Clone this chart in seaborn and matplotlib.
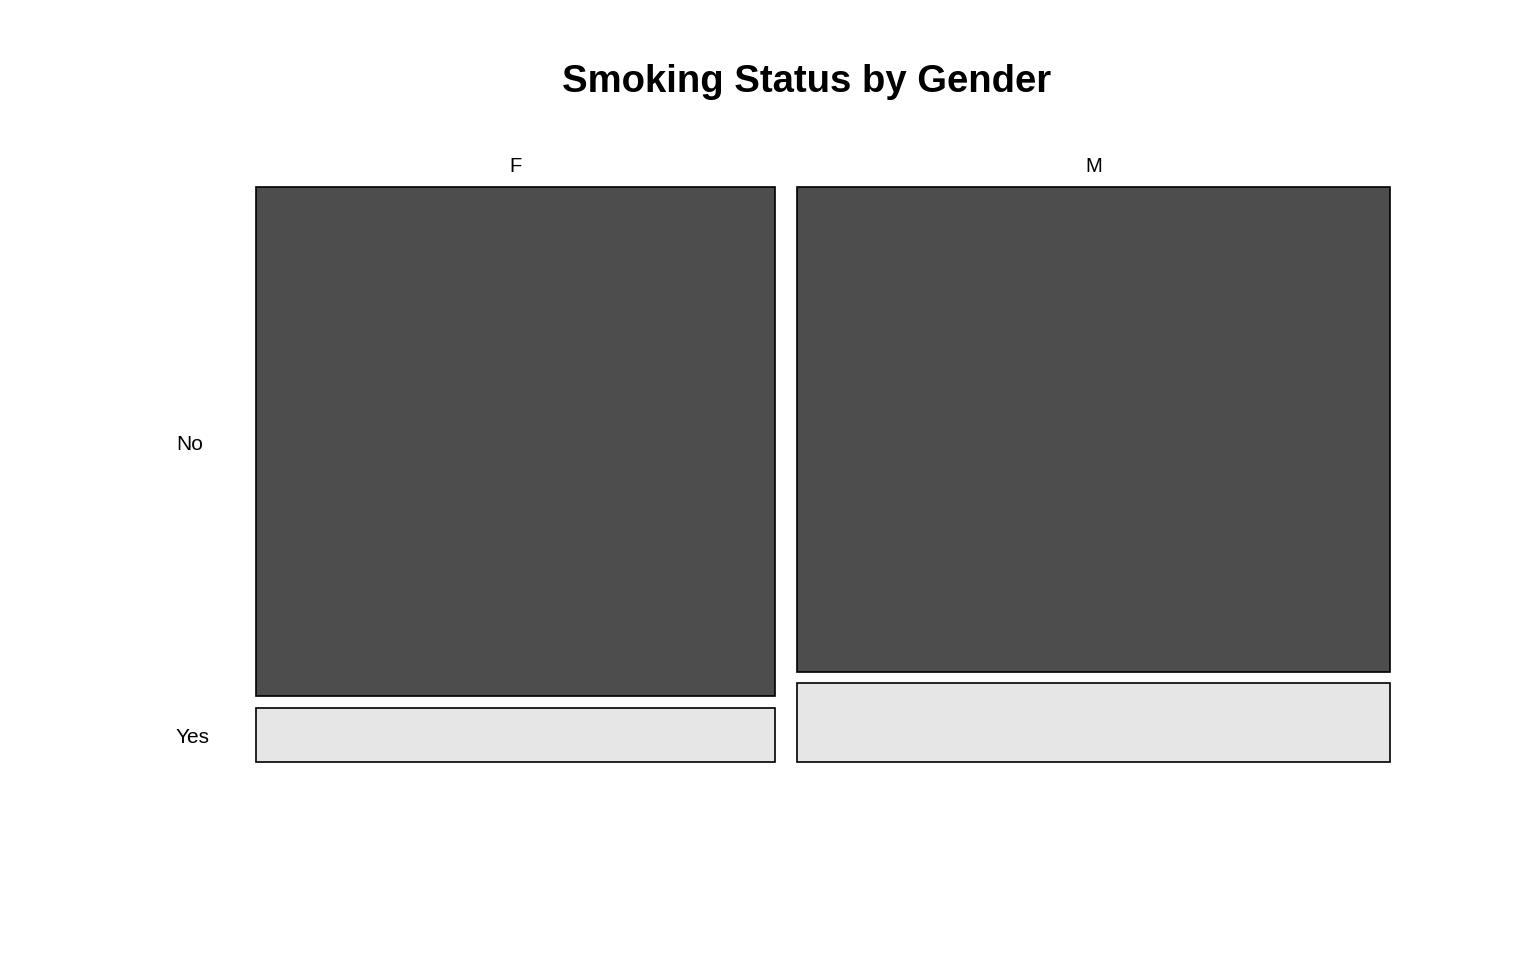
import matplotlib
matplotlib.use("Agg")
import matplotlib.pyplot as plt
import seaborn as sns

# counts (column widths / cell heights)
genders = ["F", "M"]
smoker_levels = ["No", "Yes"]
counts_no = [422, 459]
counts_yes = [45, 75]
cell_colors = {"No": "#4D4D4D", "Yes": "#E6E6E6"}

sns.set_style("white")
plt.rcParams["font.family"] = ["Liberation Sans", "DejaVu Sans"]
plt.rcParams["text.color"] = "black"

fig = plt.figure(figsize=(15.36, 9.6), dpi=100)
ax = fig.add_axes([256 / 1536, 1 - 762 / 960, 1134 / 1536, 575 / 960])

gap_x = 0.0198
gap_y = 0.0195
totals = [n + y for n, y in zip(counts_no, counts_yes)]
grand = sum(totals)

x0 = 0.0
col_centers = []
first_col_mid = {}
for i, g in enumerate(genders):
    w = totals[i] / grand * (1 - gap_x)
    p_yes = counts_yes[i] / totals[i]
    h_yes = p_yes * (1 - gap_y)
    h_no = (1 - p_yes) * (1 - gap_y)
    # Yes at the bottom, No on top
    ax.bar(x0, h_yes, width=w, bottom=0, align="edge",
           color=cell_colors["Yes"], edgecolor="black", linewidth=1.2, clip_on=False)
    ax.bar(x0, h_no, width=w, bottom=h_yes + gap_y, align="edge",
           color=cell_colors["No"], edgecolor="black", linewidth=1.2, clip_on=False)
    col_centers.append(x0 + w / 2)
    if i == 0:
        first_col_mid["Yes"] = h_yes / 2
        first_col_mid["No"] = h_yes + gap_y + h_no / 2
    x0 += w + gap_x

ax.set_xlim(0, 1)
ax.set_ylim(0, 1)
ax.axis("off")

for g, cx in zip(genders, col_centers):
    ax.text(cx, 1 + 20 / 575, g, ha="center", va="center", fontsize=14.5)

for lvl in smoker_levels:
    ax.text(-80 / 1134, first_col_mid[lvl] - 3 / 575, lvl,
            ha="left", va="center", fontsize=15)

fig.text(806.5 / 1536, 1 - 82 / 960, "Smoking Status by Gender",
         ha="center", va="center", fontsize=27.5, fontweight="bold")

fig.savefig("out.png", dpi=100)
